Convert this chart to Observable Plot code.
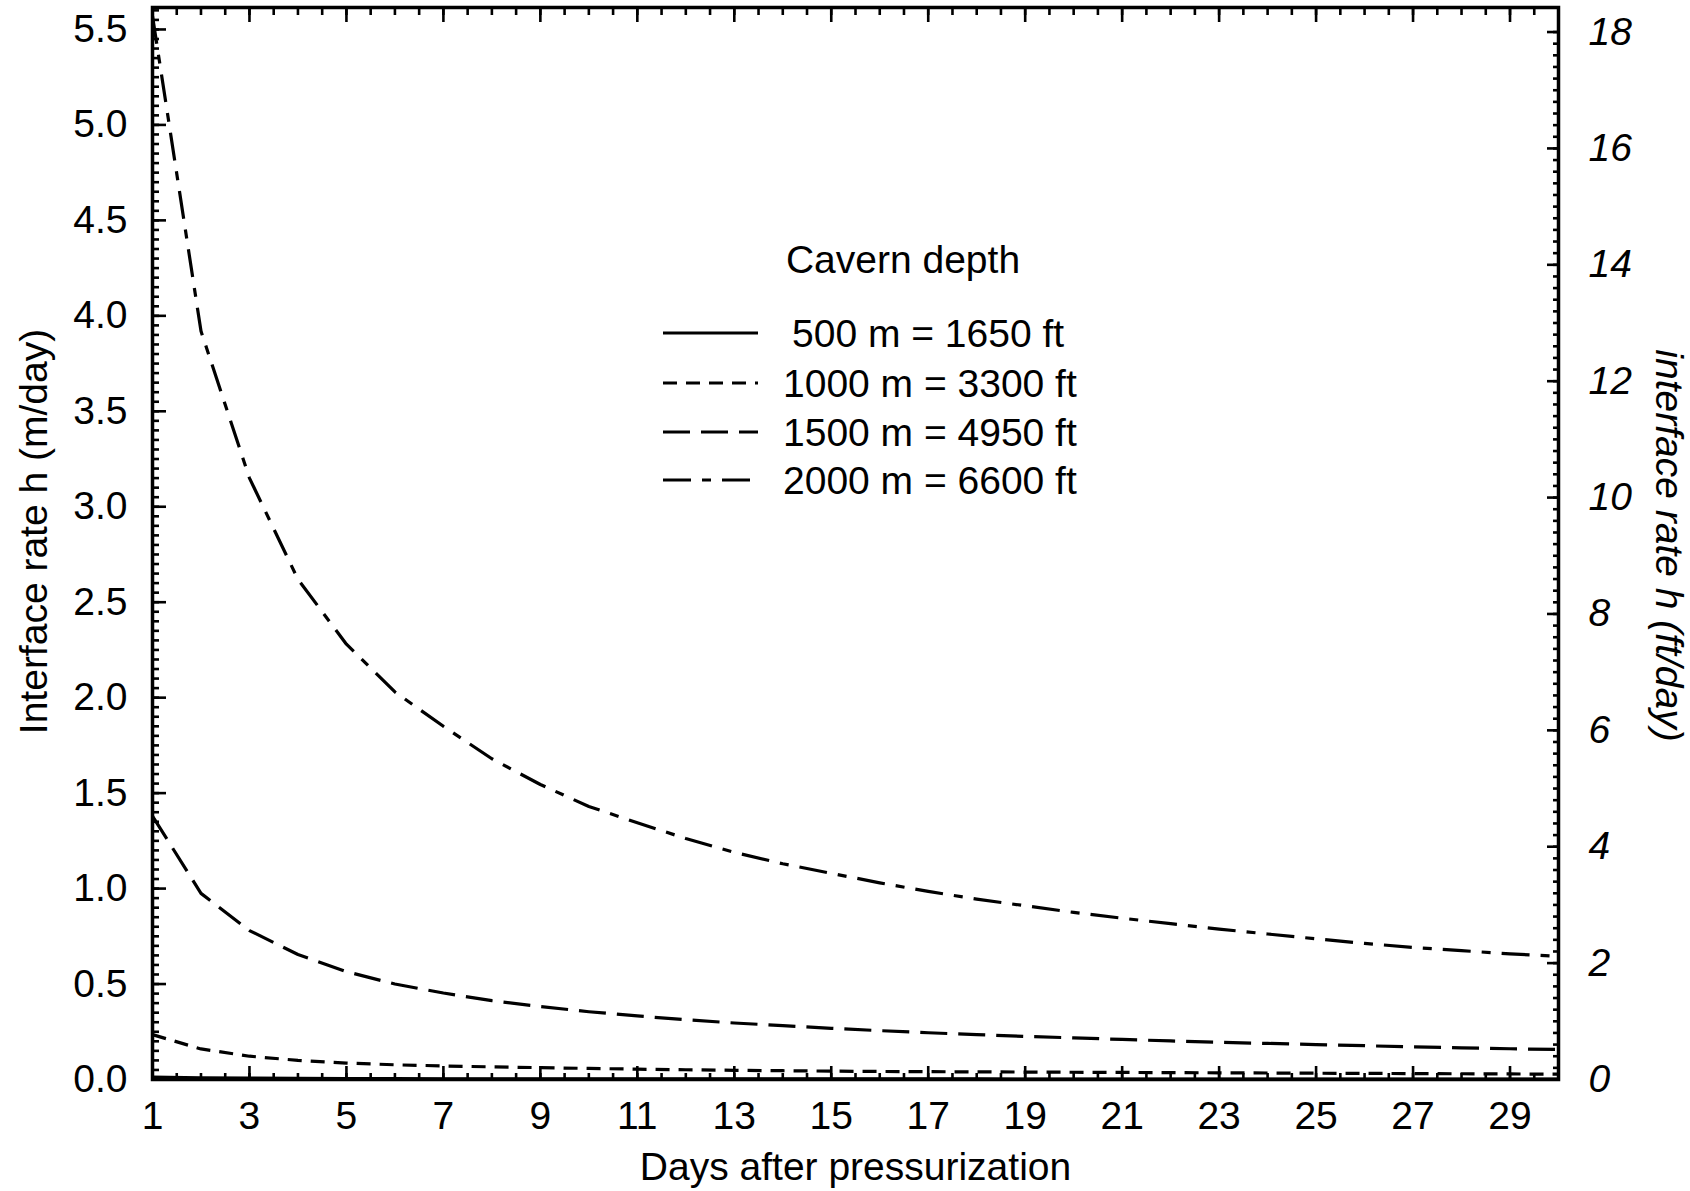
<!DOCTYPE html>
<html><head><meta charset="utf-8">
<script src="https://cdn.jsdelivr.net/npm/d3@7"></script>
<script src="https://cdn.jsdelivr.net/npm/@observablehq/plot@0.6"></script>
<style>
html,body{margin:0;padding:0;background:#fff;}
#wrap{position:relative;width:1690px;height:1191px;overflow:hidden;}
#legend{position:absolute;left:0;top:0;pointer-events:none;}
</style></head><body><div id="wrap"></div>
<script>
// ---- data ----
const days = [1,2,3,4,5,6,7,8,9,10,11,12,13,14,15,16,17,18,19,20,21,22,23,24,25,26,27,28,29,30];
const rate500  = [0.012,0.009,0.007,0.006,0.005,0.005,0.004,0.004,0.004,0.004,0.003,0.003,0.003,0.003,0.003,0.003,0.003,0.003,0.002,0.002,0.002,0.002,0.002,0.002,0.002,0.002,0.002,0.002,0.002,0.002];
const rate1000 = [0.235,0.16,0.122,0.1,0.086,0.077,0.071,0.066,0.062,0.058,0.054,0.051,0.048,0.046,0.044,0.042,0.041,0.04,0.039,0.038,0.037,0.036,0.035,0.034,0.033,0.032,0.031,0.03,0.029,0.028];
const rate1500 = [1.38,0.975,0.78,0.655,0.565,0.5,0.453,0.413,0.382,0.355,0.333,0.313,0.296,0.282,0.268,0.256,0.245,0.235,0.226,0.218,0.21,0.202,0.195,0.189,0.183,0.177,0.171,0.166,0.161,0.157];
const rate2000 = [5.57,3.92,3.15,2.62,2.28,2.03,1.85,1.68,1.545,1.43,1.345,1.262,1.19,1.13,1.08,1.03,0.985,0.945,0.91,0.875,0.845,0.816,0.788,0.762,0.737,0.713,0.692,0.675,0.658,0.645];
const seriesLabels = ["500 m = 1650 ft","1000 m = 3300 ft","1500 m = 4950 ft","2000 m = 6600 ft"];
const legendTitle = "Cavern depth";
const xMajorTicks = [1,3,5,7,9,11,13,15,17,19,21,23,25,27,29];
const yMajorTicks = [0,0.5,1,1.5,2,2.5,3,3.5,4,4.5,5,5.5];
const ftMajorTicks = [0,2,4,6,8,10,12,14,16,18];
const M_TO_FT = 3.2808;

// ---- styles ----
const FONT = '"Liberation Sans", Arial, Helvetica, sans-serif';
const dashes = [null, "14,9", "27,11", "28,11,9,11"];
const allRates = [rate500, rate1000, rate1500, rate2000];

const xMinorTicks = d3.range(0, 59).map(i => 1 + i * 0.5);
const yMinorTicks = d3.range(0, 113).map(i => +(i * 0.05).toFixed(3));
const ftMinorTicks = d3.range(0, 91).map(i => +(i * 0.2).toFixed(3));

const lineMarks = allRates.map((r, k) =>
  Plot.line(days.map((d, i) => ({day: d, rate: r[i]})), {
    x: "day", y: "rate", stroke: "black", strokeWidth: 3.2,
    strokeDasharray: dashes[k] || undefined, strokeLinecap: "butt", strokeLinejoin: "round"
  })
);

const common = {label: null, stroke: "black"};
const TW = 2.6;
const chart = Plot.plot({
  width: 1690, height: 1191,
  marginLeft: 152, marginRight: 132, marginTop: 7, marginBottom: 112,
  style: {fontFamily: FONT, fontSize: "39px", background: "white", color: "black", overflow: "visible"},
  x: {domain: [1, 30], axis: null},
  y: {domain: [0, 5.615], axis: null},
  marks: [
    ...lineMarks,
    // bottom
    Plot.axisX(xMinorTicks, {...common, anchor: "bottom", tickSize: -6, fill: "none", strokeWidth: TW}),
    Plot.axisX(xMajorTicks, {...common, anchor: "bottom", tickSize: -13, fill: "none", strokeWidth: TW}),
    Plot.axisX(xMajorTicks, {...common, anchor: "bottom", tickSize: 0, tickPadding: 22, tickFormat: d => String(d), fill: "black", fontSize: 39}),
    // top
    Plot.axisX(xMinorTicks, {...common, anchor: "top", tickSize: -7, fill: "none", strokeWidth: TW}),
    Plot.axisX(xMajorTicks, {...common, anchor: "top", tickSize: -14, fill: "none", strokeWidth: TW}),
    // left
    Plot.axisY(yMinorTicks, {...common, anchor: "left", tickSize: -7, fill: "none", strokeWidth: TW}),
    Plot.axisY(yMajorTicks, {...common, anchor: "left", tickSize: -14, fill: "none", strokeWidth: TW}),
    Plot.axisY(yMajorTicks, {...common, anchor: "left", tickSize: 0, tickPadding: 25, tickFormat: d => d.toFixed(1), fill: "black", fontSize: 39}),
    // right (ft/day)
    Plot.axisY(ftMinorTicks.map(f => f / M_TO_FT), {...common, anchor: "right", tickSize: -6, fill: "none", strokeWidth: TW}),
    Plot.axisY(ftMajorTicks.map(f => f / M_TO_FT), {...common, anchor: "right", tickSize: -12, fill: "none", strokeWidth: TW}),
    Plot.axisY(ftMajorTicks.map(f => f / M_TO_FT), {...common, anchor: "right", tickSize: 0, tickPadding: 30, tickFormat: d => String(Math.round(d * M_TO_FT)), fill: "black", fontSize: 39, fontStyle: "italic"}),
    Plot.frame({stroke: "black", strokeWidth: 3.5}),
    // axis titles
    Plot.text(["Interface rate h (m/day)"], {text: d => d, frameAnchor: "left", dx: -118, dy: -12, rotate: -90, textAnchor: "middle", lineAnchor: "middle", fontSize: 39, fill: "black"}),
    Plot.text(["interface rate h (ft/day)"], {text: d => d, frameAnchor: "right", dx: 110, dy: 2, rotate: 90, textAnchor: "middle", lineAnchor: "middle", fontSize: 39, fontStyle: "italic", fill: "black"}),
    Plot.text(["Days after pressurization"], {text: d => d, frameAnchor: "bottom", dy: 88, textAnchor: "middle", lineAnchor: "middle", fontSize: 39, fill: "black"})
  ]
});
const wrap = document.getElementById("wrap");
wrap.appendChild(chart);
d3.select(chart).selectAll('g[aria-label="y-axis tick label"]').each(function() {
  const g = d3.select(this);
  if (g.attr("text-anchor") === "start") g.attr("font-style", "italic");
});

// ---- legend (overlay) ----
const leg = d3.select(wrap).append("svg").attr("id", "legend")
  .attr("width", 1690).attr("height", 1191)
  .attr("font-family", FONT).attr("font-size", 39);
leg.append("text").attr("x", 903).attr("y", 273).attr("text-anchor", "middle").text(legendTitle);
const rowY = [333, 383, 432, 480];
seriesLabels.forEach((lab, k) => {
  leg.append("line").attr("x1", 663).attr("x2", 758).attr("y1", rowY[k]).attr("y2", rowY[k])
    .attr("stroke", "black").attr("stroke-width", 3.2)
    .attr("stroke-dasharray", dashes[k] || null);
  leg.append("text").attr("x", k === 0 ? 792 : 783).attr("y", rowY[k] + 14).text(lab);
});
</script></body></html>
